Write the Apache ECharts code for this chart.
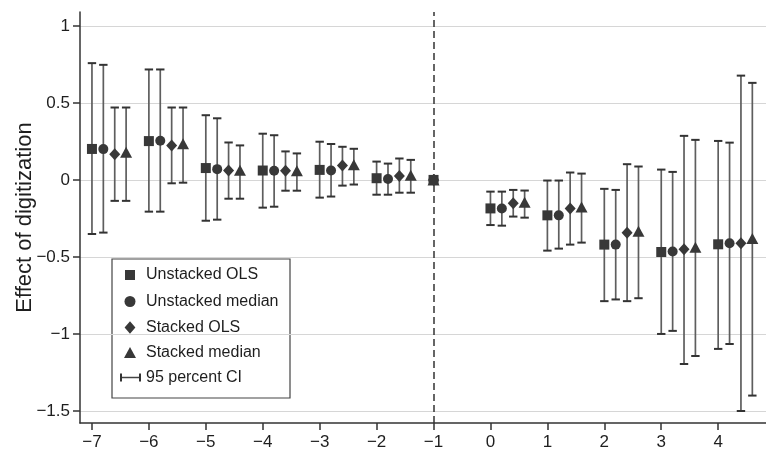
<!DOCTYPE html>
<html>
<head>
<meta charset="utf-8">
<script src="https://cdn.jsdelivr.net/npm/echarts@6/dist/echarts.min.js"></script>
<style>
  html, body { margin: 0; padding: 0; background: #ffffff; }
  #chart { width: 766px; height: 450px; }
</style>
</head>
<body>
<div id="chart"></div>
<script>
// Event-time periods relative to digitization (-1 is the omitted reference period)
const periods = [-7, -6, -5, -4, -3, -2, -1, 0, 1, 2, 3, 4];
const referencePeriod = -1;

const seriesNames = ['Unstacked OLS', 'Unstacked median', 'Stacked OLS', 'Stacked median'];
const ciLabel = '95 percent CI';

// Point estimates
const unstackedOlsEst    = [0.201, 0.252, 0.077, 0.061, 0.065, 0.011, 0, -0.185, -0.230, -0.420, -0.468, -0.418];
const unstackedMedianEst = [0.200, 0.254, 0.070, 0.059, 0.061, 0.006, 0, -0.185, -0.230, -0.420, -0.465, -0.411];
const stackedOlsEst      = [0.167, 0.224, 0.061, 0.059, 0.094, 0.026, 0, -0.152, -0.185, -0.343, -0.450, -0.411];
const stackedMedianEst   = [0.180, 0.235, 0.063, 0.060, 0.098, 0.030, 0, -0.145, -0.176, -0.333, -0.437, -0.381];

// 95 percent confidence bounds
const unstackedOlsLo    = [-0.351, -0.206, -0.265, -0.180, -0.115, -0.096, 0, -0.293, -0.459, -0.787, -1.000, -1.097];
const unstackedOlsHi    = [ 0.758,  0.717,  0.420,  0.300,  0.248,  0.119, 0, -0.076, -0.004, -0.058,  0.067,  0.253];
const unstackedMedianLo = [-0.342, -0.206, -0.258, -0.174, -0.108, -0.096, 0, -0.297, -0.446, -0.776, -0.980, -1.065];
const unstackedMedianHi = [ 0.747,  0.717,  0.400,  0.290,  0.233,  0.106, 0, -0.076, -0.004, -0.065,  0.052,  0.242];
const stackedOlsLo      = [-0.136, -0.022, -0.122, -0.070, -0.037, -0.083, 0, -0.238, -0.420, -0.787, -1.195, -1.500];
const stackedOlsHi      = [ 0.470,  0.470,  0.243,  0.185,  0.215,  0.139, 0, -0.065,  0.048,  0.102,  0.286,  0.677];
const stackedMedianLo   = [-0.136, -0.018, -0.122, -0.070, -0.030, -0.083, 0, -0.245, -0.407, -0.768, -1.143, -1.400];
const stackedMedianHi   = [ 0.470,  0.470,  0.224,  0.172,  0.202,  0.130, 0, -0.069,  0.041,  0.087,  0.260,  0.630];

// Axis ticks
const xTicks = [-7, -6, -5, -4, -3, -2, -1, 0, 1, 2, 3, 4];
const yTicks = [-1.5, -1, -0.5, 0, 0.5, 1];

const estimates = [unstackedOlsEst, unstackedMedianEst, stackedOlsEst, stackedMedianEst];
const lowers = [unstackedOlsLo, unstackedMedianLo, stackedOlsLo, stackedMedianLo];
const uppers = [unstackedOlsHi, unstackedMedianHi, stackedOlsHi, stackedMedianHi];

const FONT = '"Liberation Sans", Arial, Helvetica, sans-serif';
const MARK = '#383838';
const symbols = ['rect', 'circle', 'diamond', 'triangle'];
const symbolSizes = [10, 10, [11, 12], [12, 11]];
const dodge = 0.2; // horizontal spacing between estimators within a period

function xPos(period, k) {
  return period === referencePeriod ? period : period + k * dodge;
}
const minus = v => String(v).replace('-', '\u2212');

function renderCI(params, api) {
  const x = api.value(0), lo = api.value(1), hi = api.value(2);
  if (lo === hi) return null;
  const top = api.coord([x, hi]);
  const bot = api.coord([x, lo]);
  const cap = 4.2;
  return {
    type: 'group',
    children: [
      { type: 'line', shape: { x1: top[0], y1: top[1], x2: bot[0], y2: bot[1] },
        style: { stroke: '#5e5e5e', lineWidth: 1.7 } },
      { type: 'line', shape: { x1: top[0] - cap, y1: top[1], x2: top[0] + cap, y2: top[1] },
        style: { stroke: '#333333', lineWidth: 2 } },
      { type: 'line', shape: { x1: bot[0] - cap, y1: bot[1], x2: bot[0] + cap, y2: bot[1] },
        style: { stroke: '#333333', lineWidth: 2 } }
    ]
  };
}

const series = [];
seriesNames.forEach((name, k) => {
  series.push({
    name: ciLabel,
    type: 'custom',
    renderItem: renderCI,
    silent: true,
    z: 2,
    encode: { x: 0, y: [1, 2] },
    data: periods.map((p, i) => [xPos(p, k), lowers[k][i], uppers[k][i]])
  });
});
seriesNames.forEach((name, k) => {
  const s = {
    name: name,
    type: 'scatter',
    symbol: symbols[k],
    symbolSize: symbolSizes[k],
    itemStyle: { color: MARK, opacity: 1 },
    z: 3,
    silent: true,
    data: periods.map((p, i) => [xPos(p, k), estimates[k][i]])
  };
  if (k === 0) {
    s.markLine = {
      silent: true,
      symbol: 'none',
      label: { show: false },
      z: 1,
      lineStyle: { type: [7, 4], color: '#333333', width: 1.5 },
      data: [{ xAxis: referencePeriod }]
    };
  }
  series.push(s);
});

// Legend box drawn as graphic elements
const legendLeft = 112, legendTop = 259, legendW = 178, legendH = 139;
const rowY = [275, 301.5, 327.5, 352.5, 377.5];
const iconX = 130, textX = 146;
const legendGraphics = [
  { type: 'rect', shape: { x: legendLeft, y: legendTop, width: legendW, height: legendH },
    style: { fill: '#ffffff', stroke: '#444444', lineWidth: 1.2 } },
  { type: 'rect', shape: { x: iconX - 5, y: rowY[0] - 5, width: 10, height: 10 }, style: { fill: MARK } },
  { type: 'circle', shape: { cx: iconX, cy: rowY[1], r: 5.5 }, style: { fill: MARK } },
  { type: 'polygon', shape: { points: [[iconX, rowY[2] - 6.3], [iconX + 5.4, rowY[2]], [iconX, rowY[2] + 6.3], [iconX - 5.4, rowY[2]]] },
    style: { fill: MARK } },
  { type: 'polygon', shape: { points: [[iconX, rowY[3] - 5.5], [iconX + 6, rowY[3] + 5.5], [iconX - 6, rowY[3] + 5.5]] },
    style: { fill: MARK } },
  { type: 'polyline', shape: { points: [[121, rowY[4]], [140, rowY[4]]] }, style: { stroke: '#444', lineWidth: 1.5 } },
  { type: 'polyline', shape: { points: [[121, rowY[4] - 4], [121, rowY[4] + 4]] }, style: { stroke: '#333', lineWidth: 2 } },
  { type: 'polyline', shape: { points: [[140, rowY[4] - 4], [140, rowY[4] + 4]] }, style: { stroke: '#333', lineWidth: 2 } }
];
seriesNames.concat([ciLabel]).forEach((label, i) => {
  legendGraphics.push({
    type: 'text',
    style: { x: textX, y: rowY[i], text: label, fill: '#1e1e1e', font: '16px ' + FONT, verticalAlign: 'middle', align: 'left' }
  });
});

const chart = echarts.init(document.getElementById('chart'), null, { renderer: 'canvas' });
chart.setOption({
  animation: false,
  backgroundColor: '#ffffff',
  textStyle: { fontFamily: FONT },
  grid: { left: 80, right: 0, top: 12, bottom: 27, containLabel: false, outerBoundsMode: 'none' },
  xAxis: {
    type: 'value',
    min: -7.21,
    max: 4.84,
    axisLine: { show: true, onZero: false, lineStyle: { color: '#333333', width: 1.5 } },
    axisTick: { show: true, length: 7, customValues: xTicks, lineStyle: { color: '#333333', width: 1.5 } },
    axisLabel: { customValues: xTicks, formatter: minus, fontSize: 17, color: '#1e1e1e', margin: 11, fontFamily: FONT },
    splitLine: { show: false }
  },
  yAxis: {
    type: 'value',
    min: -1.578,
    max: 1.09,
    name: 'Effect of digitization',
    nameLocation: 'middle',
    nameGap: 44,
    nameMoveOverlap: false,
    nameTextStyle: { fontSize: 22, color: '#1e1e1e', fontFamily: FONT },
    axisLine: { show: true, onZero: false, lineStyle: { color: '#333333', width: 1.5 } },
    axisTick: { show: true, length: 7, customValues: yTicks, lineStyle: { color: '#333333', width: 1.5 } },
    axisLabel: { customValues: yTicks, formatter: minus, fontSize: 17, color: '#1e1e1e', margin: 10, fontFamily: FONT },
    splitLine: { show: true, lineStyle: { color: '#d6d6d6', width: 1.2 } }
  },
  series: series,
  graphic: { elements: [{ type: 'group', z: 100, children: legendGraphics }] }
});
</script>
</body>
</html>
